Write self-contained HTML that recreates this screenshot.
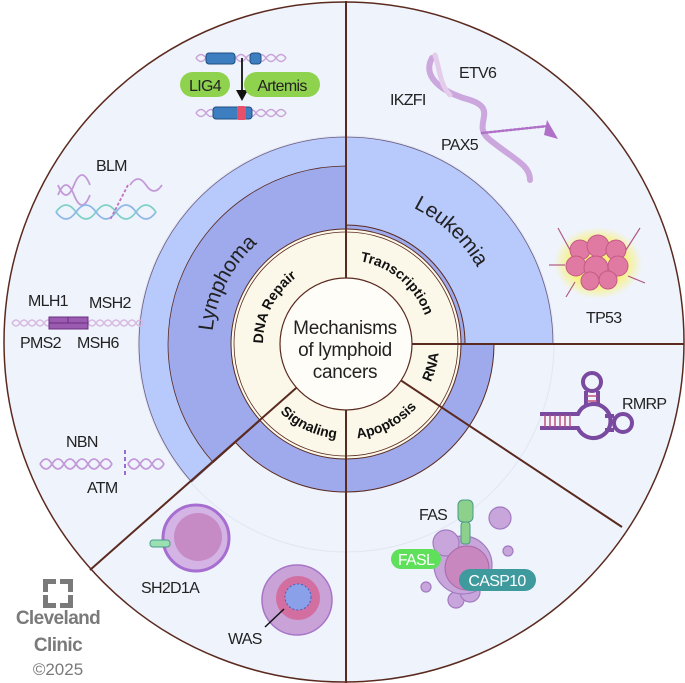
<!DOCTYPE html>
<html><head><meta charset="utf-8"><style>
html,body{margin:0;padding:0;background:#fff;}
svg{display:block;}
.lab{font-family:"Liberation Sans",sans-serif;font-size:16px;fill:#222;letter-spacing:-0.7px;}
.ring{font-family:"Liberation Sans",sans-serif;font-size:14px;font-weight:bold;fill:#111;}
.big{font-family:"Liberation Sans",sans-serif;font-size:21px;fill:#222;letter-spacing:-0.3px;}
</style></head><body>
<svg width="685" height="683" viewBox="0 0 685 683" xmlns="http://www.w3.org/2000/svg">
<defs>
<path id="pDNA" d="M285.3,400.6 A83,83 0 0 1 356.1,261.6"/>
<path id="pTr" d="M304,271.3 A84,84 0 0 1 425,372.7"/>
<path id="pRNA" d="M392.5,424.5 A93,93 0 0 0 426.5,297.5"/>
<path id="pSig" d="M251.4,352.3 A95,95 0 0 0 400.5,421.8"/>
<path id="pApo" d="M295,424.1 A95,95 0 0 0 440.9,348.1"/>
<path id="pLym" d="M248,435.4 A134,134 0 0 1 362.3,211"/>
<path id="pLeu" d="M277,208.6 A152,152 0 0 1 486,403.4"/>
<radialGradient id="glow"><stop offset="0.6" stop-color="#f8f27a"/><stop offset="1" stop-color="#f8f27a" stop-opacity="0"/></radialGradient>
</defs>
<circle cx="344" cy="342" r="340" fill="#eff3fc" stroke="#5b2a1f" stroke-width="1.5"/>
<circle cx="346" cy="344" r="208" fill="none" stroke="#e2e6f2" stroke-width="1"/>
<circle cx="346" cy="344" r="148" fill="#9eaaec" stroke="#5b2a1f" stroke-width="1"/>
<path d="M346,344 L346,137 A207,207 0 0 0 191.6,481.9 Z" fill="#b8c9fb" stroke="#6a5a80" stroke-width="0.8"/>
<path d="M346,344 L346,166 A178,178 0 0 0 213.2,462.5 Z" fill="#9eaaec" stroke="#5b2a1f" stroke-width="0.8"/>
<path d="M346,344 L346,137 A207,207 0 0 1 553,344 Z" fill="#b8c9fb" stroke="#6a5a80" stroke-width="0.8"/>
<path d="M346,344 L346,225 A119,119 0 0 1 465,344 Z" fill="#9eaaec" stroke="#5b2a1f" stroke-width="1"/>
<circle cx="346" cy="344" r="115" fill="#fbf8ea" stroke="#5b2a1f" stroke-width="1"/>
<circle cx="346" cy="344" r="112" fill="none" stroke="#5b2a1f" stroke-width="0.8"/>
<g stroke="#5b2a1f" stroke-width="2" fill="none">
<line x1="346" y1="1" x2="346" y2="683"/>
<line x1="346" y1="344" x2="684" y2="344"/>
<line x1="346" y1="344" x2="622" y2="527"/>
<line x1="346" y1="344" x2="90" y2="570"/>
</g>
<circle cx="346" cy="344" r="66" fill="#fefdf8" stroke="#5b2a1f" stroke-width="1.2"/>
<text font-family="Liberation Sans,sans-serif" font-size="19" fill="#222" text-anchor="middle" letter-spacing="-0.3">
<tspan x="345" y="334">Mechanisms</tspan><tspan x="345" y="356">of lymphoid</tspan><tspan x="345" y="378">cancers</tspan></text>
<text class="ring"><textPath href="#pDNA" startOffset="50%" text-anchor="middle">DNA Repair</textPath></text>
<text class="ring"><textPath href="#pTr" startOffset="50%" text-anchor="middle">Transcription</textPath></text>
<text class="ring"><textPath href="#pRNA" startOffset="50%" text-anchor="middle">RNA</textPath></text>
<text class="ring"><textPath href="#pSig" startOffset="50%" text-anchor="middle">Signaling</textPath></text>
<text class="ring"><textPath href="#pApo" startOffset="50%" text-anchor="middle">Apoptosis</textPath></text>
<text class="big"><textPath href="#pLym" startOffset="50%" text-anchor="middle">Lymphoma</textPath></text>
<text class="big"><textPath href="#pLeu" startOffset="50%" text-anchor="middle">Leukemia</textPath></text>

<g fill="none" stroke="#c9a3d8" stroke-width="1.5">
<path d="M196,58 q5,-7 10,0 t10,0 t10,0 t10,0 t10,0 t10,0 t10,0 t10,0 t10,0"/>
<path d="M196,58 q5,7 10,0 t10,0 t10,0 t10,0 t10,0 t10,0 t10,0 t10,0 t10,0"/>
<path d="M196,113 q5,-7 10,0 t10,0 t10,0 t10,0 t10,0 t10,0 t10,0 t10,0 t10,0"/>
<path d="M196,113 q5,7 10,0 t10,0 t10,0 t10,0 t10,0 t10,0 t10,0 t10,0 t10,0"/>
</g>
<rect x="206" y="53" width="29" height="11" rx="3" fill="#3c7ec0" stroke="#1f4e80"/>
<rect x="250" y="53" width="11" height="11" rx="3" fill="#3c7ec0" stroke="#1f4e80"/>
<rect x="213" y="107" width="39" height="12" rx="3" fill="#3c7ec0" stroke="#1f4e80"/>
<rect x="237" y="106" width="9" height="14" rx="2" fill="#e8506a"/>
<line x1="242" y1="58" x2="242" y2="92" stroke="#111" stroke-width="1.8"/>
<path d="M236,90 L248,90 L242,101 Z" fill="#111"/>
<rect x="180" y="72" width="50" height="25" rx="12.5" fill="#8fd24e"/>
<text class="lab" x="205" y="91" text-anchor="middle">LIG4</text>
<rect x="244" y="72" width="76" height="25" rx="12.5" fill="#8fd24e"/>
<text class="lab" x="282" y="91" text-anchor="middle">Artemis</text>

<text class="lab" x="96" y="171">BLM</text>
<g fill="none" stroke-width="1.8">
<path d="M58,195 q8,-20 16,0 t16,0" stroke="#c39ad8"/>
<path d="M58,185 q8,20 16,0 t16,0" stroke="#c39ad8"/>
<path d="M130,185 q8,-12 16,0 t16,0" stroke="#c39ad8"/>
<path d="M56,212 q10,-14 20,0 t20,0 t20,0 t20,0 t20,0" stroke="#7fd0c8"/>
<path d="M56,212 q10,14 20,0 t20,0 t20,0 t20,0 t20,0" stroke="#8fb8e8"/>
<path d="M128,185 L110,220" stroke="#c070c0" stroke-dasharray="3,2"/>
</g>
<text class="lab" x="28" y="306">MLH1</text>
<text class="lab" x="89" y="308">MSH2</text>
<text class="lab" x="20" y="348">PMS2</text>
<text class="lab" x="77" y="348">MSH6</text>
<g fill="none" stroke="#d6b8e2" stroke-width="1.5">
<path d="M12,323 q4,-6 8,0 t8,0 t8,0 t8,0 t8,0"/><path d="M12,323 q4,6 8,0 t8,0 t8,0 t8,0 t8,0"/>
<path d="M88,323 q4,-6 8,0 t8,0 t8,0 t8,0 t8,0 t8,0 t8,0"/><path d="M88,323 q4,6 8,0 t8,0 t8,0 t8,0 t8,0 t8,0 t8,0"/>
</g>
<rect x="49" y="317" width="39" height="12" fill="#9a5bb0" stroke="#6a2f80"/>
<line x1="68" y1="317" x2="68" y2="323" stroke="#6a2f80"/><line x1="49" y1="323" x2="88" y2="323" stroke="#6a2f80"/>
<text class="lab" x="66" y="447">NBN</text>
<text class="lab" x="87" y="493">ATM</text>
<g fill="none" stroke="#c39ad8" stroke-width="1.8">
<path d="M40,464 q6,-10 12,0 t12,0 t12,0 t12,0 t12,0 t12,0"/><path d="M40,464 q6,10 12,0 t12,0 t12,0 t12,0 t12,0 t12,0"/>
<path d="M128,464 q6,-10 12,0 t12,0 t12,0"/><path d="M128,464 q6,10 12,0 t12,0 t12,0"/>
</g>
<line x1="125" y1="450" x2="125" y2="478" stroke="#8040c0" stroke-width="1.5" stroke-dasharray="4,3"/>

<g fill="none" stroke-linecap="round">
<path d="M432,58 C420,80 450,95 470,100 C500,110 470,125 490,140 C515,160 530,165 530,180" stroke="#cba7dd" stroke-width="6"/>
<path d="M435,55 C440,70 440,85 450,95" stroke="#e4cdea" stroke-width="5"/>
<path d="M482,133 L548,126" stroke="#b070c8" stroke-width="2.5" stroke-dasharray="2,2"/>
</g>
<path d="M547,120 L558,139 L544,135 Z" fill="#b070c8"/>
<text class="lab" x="459" y="78">ETV6</text>
<text class="lab" x="390" y="105">IKZFI</text>
<text class="lab" x="441" y="150">PAX5</text>
<ellipse cx="598" cy="263" rx="44" ry="36" fill="url(#glow)"/>
<g fill="#e07aa2" stroke="#c45a86" stroke-width="1">
<circle cx="580" cy="250" r="10"/><circle cx="598" cy="246" r="11"/><circle cx="616" cy="250" r="10"/>
<circle cx="576" cy="266" r="10"/><circle cx="596" cy="268" r="12"/><circle cx="618" cy="266" r="10"/>
<circle cx="590" cy="281" r="9"/><circle cx="608" cy="280" r="9"/>
</g>
<g stroke="#b05a80" stroke-width="1.2"><line x1="570" y1="250" x2="558" y2="228"/><line x1="626" y1="250" x2="640" y2="228"/><line x1="565" y1="265" x2="549" y2="265"/><line x1="628" y1="276" x2="645" y2="283"/><line x1="575" y1="282" x2="566" y2="297"/></g>
<text class="lab" x="586" y="323">TP53</text>
<!-- RMRP -->
<g fill="none" stroke="#7a4aa0" stroke-width="4">
<circle cx="592" cy="382" r="9"/>
<circle cx="623" cy="423" r="9"/>
<path d="M586,391 L586,406 M598,391 L598,406"/>
<path d="M605,416 L614,416 M605,430 L614,430"/>
<path d="M540,414 L578,414 A17,17 0 1 1 578,428 L540,428"/>
</g>
<g stroke="#c0507a" stroke-width="1.5"><line x1="545" y1="415" x2="545" y2="427"/><line x1="550" y1="415" x2="550" y2="427"/><line x1="555" y1="415" x2="555" y2="427"/><line x1="560" y1="415" x2="560" y2="427"/><line x1="565" y1="415" x2="565" y2="427"/><line x1="570" y1="415" x2="570" y2="427"/><line x1="587" y1="396" x2="597" y2="396"/><line x1="587" y1="401" x2="597" y2="401"/></g>
<text class="lab" x="622" y="409">RMRP</text>
<g fill="#c8a6dc" stroke="#a27ac0" stroke-width="1.2">
<circle cx="500" cy="518" r="11"/><circle cx="508" cy="551" r="5"/><circle cx="426" cy="587" r="5"/>
<circle cx="456" cy="600" r="8"/><circle cx="470" cy="592" r="10"/>
<circle cx="463" cy="565" r="29"/><circle cx="446" cy="543" r="13"/>
</g>
<circle cx="467" cy="568" r="22" fill="#c987c0" stroke="#a86aa8"/>
<rect x="458" y="500" width="15" height="22" rx="5" fill="#8cd08c" stroke="#4a9a8a"/>
<rect x="461" y="522" width="9" height="22" rx="3" fill="#8cd08c" stroke="#4a9a8a"/>
<text class="lab" x="419" y="520">FAS</text>
<rect x="391" y="549" width="50" height="20" rx="10" fill="#5ee05a"/>
<text class="lab" x="416" y="565" text-anchor="middle" style="fill:#fff">FASL</text>
<rect x="459" y="569" width="77" height="22" rx="11" fill="#3f9a9e"/>
<text class="lab" x="497" y="586" text-anchor="middle" style="fill:#fff">CASP10</text>
<circle cx="196" cy="538" r="33" fill="#d3b4e4" stroke="#a66ed0" stroke-width="3"/>
<circle cx="198" cy="537" r="24" fill="#c68bc4"/>
<rect x="150" y="540" width="20" height="7" rx="3" fill="#9be0b0" stroke="#4a9a8a"/>
<text class="lab" x="141" y="593">SH2D1A</text>
<circle cx="297" cy="600" r="35" fill="#c9a3d8" stroke="#a774c8" stroke-width="1.5"/>
<circle cx="298" cy="598" r="22" fill="#d26fa0"/>
<circle cx="298" cy="597" r="13" fill="#8aa0e8" stroke="#4060c0" stroke-dasharray="2,2"/>
<line x1="284" y1="609" x2="265" y2="627" stroke="#111" stroke-width="1.5"/>
<text class="lab" x="228" y="644">WAS</text>
<g fill="#7a7a7a">
<path d="M43,579 h13 v5 h-8 v8 h-5 z M60,579 h13 v13 h-5 v-8 h-8 z M43,595 h5 v8 h8 v5 h-13 z M68,595 h5 v13 h-13 v-5 h8 z"/>
</g>
<text x="58" y="624" text-anchor="middle" font-family="Liberation Sans,sans-serif" font-weight="bold" font-size="19" fill="#7a7a7a" letter-spacing="-0.6">Cleveland</text>
<text x="58" y="651" text-anchor="middle" font-family="Liberation Sans,sans-serif" font-weight="bold" font-size="19" fill="#7a7a7a" letter-spacing="-0.6">Clinic</text>
<text x="58" y="675" text-anchor="middle" font-family="Liberation Sans,sans-serif" font-size="17" fill="#7a7a7a">©2025</text>
</svg>
</body></html>
